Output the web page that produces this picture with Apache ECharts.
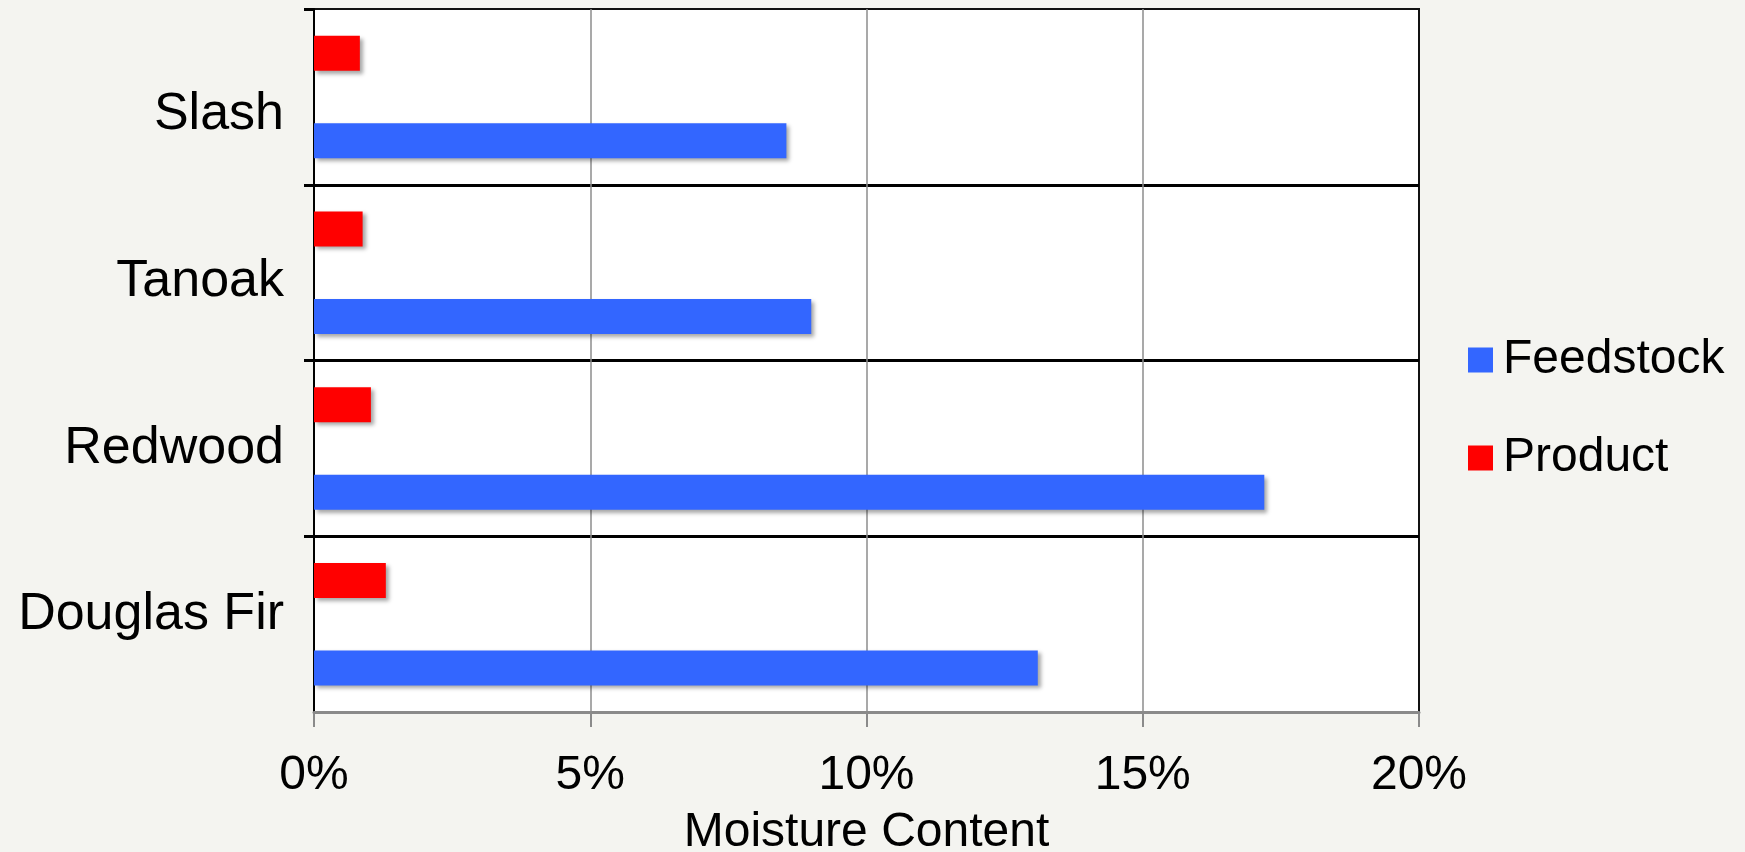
<!DOCTYPE html>
<html>
<head>
<meta charset="utf-8">
<script src="https://cdn.jsdelivr.net/npm/echarts@6/dist/echarts.min.js"></script>
<style>
html,body{margin:0;padding:0;background:#f4f4f0;}
#c{width:1745px;height:852px;}
</style>
</head>
<body>
<div id="c"></div>
<script>
// Data (bottom to top on the y axis)
const categories = ['Douglas Fir', 'Redwood', 'Tanoak', 'Slash'];
const feedstock = [13.1, 17.2, 9.0, 8.55];
const product = [1.3, 1.03, 0.88, 0.83];
const xTicks = [0, 5, 10, 15, 20];

const FONT = '"Liberation Sans", Arial, Helvetica, sans-serif';
const labelKey = {'Douglas Fir': 'd', 'Redwood': 'r', 'Tanoak': 't', 'Slash': 's'};

const chart = echarts.init(document.getElementById('c'));
chart.setOption({
  backgroundColor: '#f4f4f0',
  animation: false,
  textStyle: {fontFamily: FONT},
  grid: {
    left: 314, right: 326, top: 9, bottom: 140,
    outerBoundsMode: 'none', containLabel: false,
    show: true, backgroundColor: '#ffffff', borderColor: '#111', borderWidth: 2
  },
  legend: {
    orient: 'vertical',
    left: 1468, top: 336, padding: 0,
    icon: 'rect', itemWidth: 25, itemHeight: 25, itemGap: 50,
    data: ['Feedstock', 'Product'],
    textStyle: {fontSize: 48, color: '#000', fontFamily: FONT, padding: [0, 0, 0, 5]}
  },
  xAxis: {
    type: 'value',
    min: xTicks[0], max: xTicks[xTicks.length - 1], interval: 5,
    name: 'Moisture Content',
    nameLocation: 'middle',
    nameGap: 97,
    nameTextStyle: {fontSize: 48, color: '#000', fontFamily: FONT, verticalAlign: 'top'},
    axisLine: {show: true, lineStyle: {color: '#8a8a8a', width: 3}},
    axisTick: {show: true, length: 15, lineStyle: {color: '#8a8a8a', width: 2}},
    axisLabel: {fontSize: 48, color: '#000', fontFamily: FONT, margin: 40,
      formatter: v => v + '%'},
    splitLine: {show: true, showMinLine: false, showMaxLine: false,
      lineStyle: {color: '#8c8c8c', width: 1.5}}
  },
  yAxis: {
    type: 'category',
    data: categories,
    axisLine: {show: true, lineStyle: {color: '#000', width: 2}},
    axisTick: {show: true, length: 10, interval: (i) => i !== 0,
      lineStyle: {color: '#000', width: 3}},
    splitLine: {show: true, showMinLine: false, showMaxLine: false,
      lineStyle: {color: '#000', width: 3}},
    axisLabel: {
      fontSize: 52, color: '#000', fontFamily: FONT, margin: 30,
      formatter: v => '{' + labelKey[v] + '|' + v + '}',
      rich: {
        s: {fontSize: 52, fontFamily: FONT, color: '#000', padding: [36, 0, 0, 0]},
        t: {fontSize: 52, fontFamily: FONT, color: '#000', padding: [18, 0, 0, 0]},
        r: {fontSize: 52, fontFamily: FONT, color: '#000', padding: [0, 0, 0, 0]},
        d: {fontSize: 52, fontFamily: FONT, color: '#000', padding: [0, 0, 19, 0]}
      }
    }
  },
  series: [
    {
      name: 'Product', type: 'bar', data: product,
      barWidth: 35, barGap: '150%',
      itemStyle: {color: '#ff0000', shadowColor: 'rgba(0,0,0,0.35)',
        shadowBlur: 4, shadowOffsetX: 3, shadowOffsetY: 3}
    },
    {
      name: 'Feedstock', type: 'bar', data: feedstock,
      barWidth: 35, barGap: '150%',
      itemStyle: {color: '#3366ff', shadowColor: 'rgba(0,0,0,0.35)',
        shadowBlur: 4, shadowOffsetX: 3, shadowOffsetY: 3}
    }
  ]
});
</script>
</body>
</html>
